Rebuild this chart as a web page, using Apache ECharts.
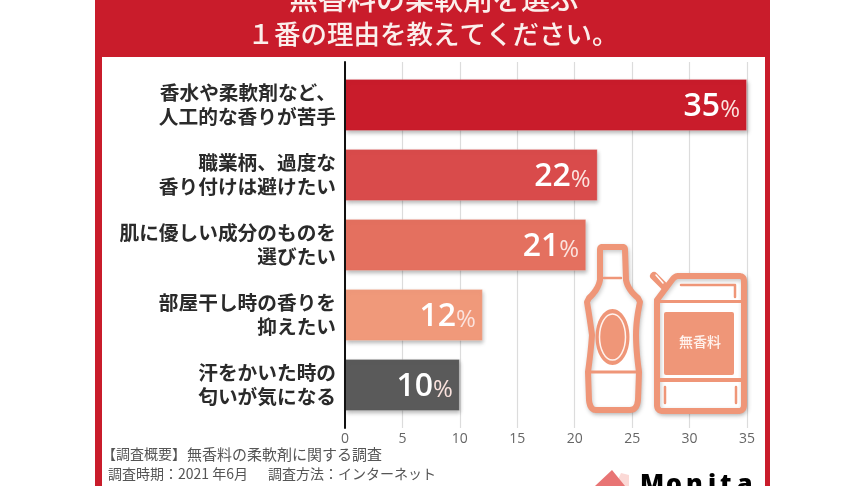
<!DOCTYPE html>
<html><head><meta charset="utf-8">
<style>html,body{margin:0;padding:0;background:#fff;overflow:hidden}#c{width:864px;height:486px}</style>
<script src="https://cdn.jsdelivr.net/npm/echarts@6/dist/echarts.min.js"></script>
</head><body><div id="c"></div>
<script>
const titleLine1 = '無香料の柔軟剤を選ぶ';
const titleLine2 = '１番の理由を教えてください。';
const categories = ['香水や柔軟剤など、\n人工的な香りが苦手','職業柄、過度な\n香り付けは避けたい','肌に優しい成分のものを\n選びたい','部屋干し時の香りを\n抑えたい','汗をかいた時の\n匂いが気になる'];
const values = [35,22,21,12,10];
const barColors = ['#C91C2B','#D94B4B','#E4705F','#F0997A','#5A5A5A'];
const footerHead = '【調査概要】';
const footerTopic = '無香料の柔軟剤に関する調査';
const footerDate = '調査時期：2021 年6月';
const footerMethod = '調査方法：インターネット';
const jugLabel = '無香料';
const brand = ['M','o','n','i','t','a'];

const JP = '"Noto Sans CJK JP"';
const RED = '#C91C2B', SAL = '#EF9678';
const shadow = {shadowColor:'rgba(0,0,0,.22)',shadowBlur:4,shadowOffsetX:1,shadowOffsetY:2};
// outline given as points; a 4-number entry is a quadratic curve (control, end)
function outline(segs){
  const pts=[];let cur=null;
  segs.forEach(s=>{
    if(s.length===2){pts.push(s);cur=s;}
    else{for(let t=1;t<=8;t++){const u=t/8,a=(1-u)*(1-u),b=2*u*(1-u),c=u*u;
      pts.push([a*cur[0]+b*s[0]+c*s[2],a*cur[1]+b*s[1]+c*s[3]]);}cur=[s[2],s[3]];}
  });
  return pts;
}
function shapeEl(segs,style){return {type:'polygon',z:10,shape:{points:outline(segs)},style};}
function line(x1,y1,x2,y2,w,color){return {type:'line',z:11,shape:{x1,y1,x2,y2},style:{stroke:color||SAL,lineWidth:w,lineCap:'round'}};}
function note(x,y,text,size){return {type:'text',z:5,x,y,style:{text,fill:'#555',font:'400 '+size+'px '+JP,verticalAlign:'middle'}};}

const brandX = [640,666,686,708,720,737];
const graphics = [
  {type:'rect',z:1,shape:{x:95,y:0,width:675,height:57},style:{fill:RED}},
  {type:'rect',z:1,shape:{x:95,y:0,width:7,height:486},style:{fill:RED}},
  {type:'rect',z:1,shape:{x:765,y:0,width:5,height:486},style:{fill:RED}},
  {type:'text',z:3,x:434,y:-1,style:{text:titleLine1,fill:'#FBEFEC',font:'500 29px '+JP,align:'center',verticalAlign:'middle'}},
  {type:'text',z:3,x:433,y:34,style:{text:titleLine2,fill:'#FBEFEC',font:'500 26.5px '+JP,align:'center',verticalAlign:'middle'}},
  // bottle
  shapeEl([[602,247],[623,247],[625,247,625,250],[626,280],[628,290,638,298],[640,302],[636,320,636,335],[636,350,639,372],[638,400],[637,410,630,410],[596,410],[590,410,589,400],[588,372],[591,350,592,335],[590,320,587,302],[589,298],[598,290,600,280],[600,250],[600,247,602,247]],
    Object.assign({fill:'#fff',stroke:SAL,lineWidth:6,lineJoin:'round'},shadow)),
  line(604,278,621,278,2.5),
  line(590,372,637,372,3),
  {type:'ellipse',z:11,shape:{cx:612.5,cy:337,rx:17,ry:28},style:{fill:SAL}},
  {type:'ellipse',z:12,shape:{cx:612.5,cy:337,rx:13,ry:23},style:{fill:'none',stroke:'#FFF3EE',lineWidth:1.5}},
  // jug
  line(654,276,665,287,8),
  line(656,275,663,283,1.5,'#fff'),
  shapeEl([[678,276],[739,276],[744,276,744,281],[744,405],[744,411,738,411],[663,411],[657,411,657,405],[657,300],[672,280],[675,276,678,276]],
    Object.assign({fill:'#fff',stroke:SAL,lineWidth:6,lineJoin:'round'},shadow)),
  line(681,285,734,285,2.5),
  line(735,285,735,297,2.5),
  line(658,301.5,743,301.5,3),
  line(658,380,743,380,4),
  line(665,387,665,403,2.5),
  line(736,387,736,403,2.5),
  {type:'rect',z:11,shape:{x:664,y:312,width:70,height:63,r:2},style:{fill:SAL}},
  {type:'text',z:12,x:700,y:342,style:{text:jugLabel,fill:'#FFF3EE',font:'500 14px '+JP,align:'center',verticalAlign:'middle'}},
  // footer
  note(102,454,footerHead,14),
  note(187,454,footerTopic,15),
  note(108,474,footerDate,14),
  note(268,474,footerMethod,14),
  // logo
  {type:'polygon',z:5,shape:{points:[[621,473],[629,475],[629,486],[615,486]]},style:{fill:'#FBD9D6'}},
  {type:'polygon',z:6,shape:{points:[[612,470],[595,486],[625,486]]},style:{fill:'#E87474'}}
].concat(brand.map((ch,i)=>({type:'text',z:6,x:brandX[i],y:472,style:{text:ch,fill:'#000',font:'900 25px "Noto Sans"',verticalAlign:'top'}})));

const chart = echarts.init(document.getElementById('c'),null,{renderer:'canvas'});
chart.setOption({
  animation:false,
  backgroundColor:'#fff',
  grid:[
    {left:345,right:117,top:70,height:350},
    {left:345,right:117,top:62,height:366}
  ],
  xAxis:[
    {gridIndex:0,type:'value',min:0,max:35,interval:5,show:false},
    {gridIndex:1,type:'value',min:0,max:35,interval:5,
      axisLine:{show:false},axisTick:{show:false},
      axisLabel:{color:'#666',fontSize:14,fontFamily:'"Open Sans"',margin:4},
      splitLine:{show:true,lineStyle:{color:'#dcdcdc',width:1.2}}}
  ],
  yAxis:[
    {gridIndex:0,type:'category',inverse:true,data:categories,
      axisLine:{show:false},axisTick:{show:false},
      axisLabel:{color:'#2a2a2a',fontFamily:JP,fontWeight:700,fontSize:19.7,lineHeight:24,margin:9,align:'right'}},
    {gridIndex:1,type:'value',min:0,max:1,
      axisLine:{show:true,onZero:false,lineStyle:{color:'#111',width:2}},
      axisTick:{show:false},axisLabel:{show:false},splitLine:{show:false},z:6}
  ],
  series:[{
    type:'bar',xAxisIndex:0,yAxisIndex:0,barWidth:52,z:4,
    data:values.map((v,i)=>({value:v,itemStyle:{color:barColors[i]}})),
    itemStyle:{borderColor:'rgba(255,255,255,.2)',borderWidth:1,shadowColor:'rgba(0,0,0,.28)',shadowBlur:4,shadowOffsetX:1,shadowOffsetY:2},
    label:{show:true,position:'insideRight',distance:7,offset:[0,2],
      formatter:p=>'{v|'+p.value+'}{p|%}',
      rich:{v:{color:'#fff',fontFamily:'"Open Sans"',fontWeight:600,fontSize:32},
            p:{color:'#FBE3DE',fontFamily:'"Open Sans"',fontWeight:400,fontSize:24,padding:[6,0,0,0]}}}
  }],
  graphic:{elements:graphics}
});
</script></body></html>
